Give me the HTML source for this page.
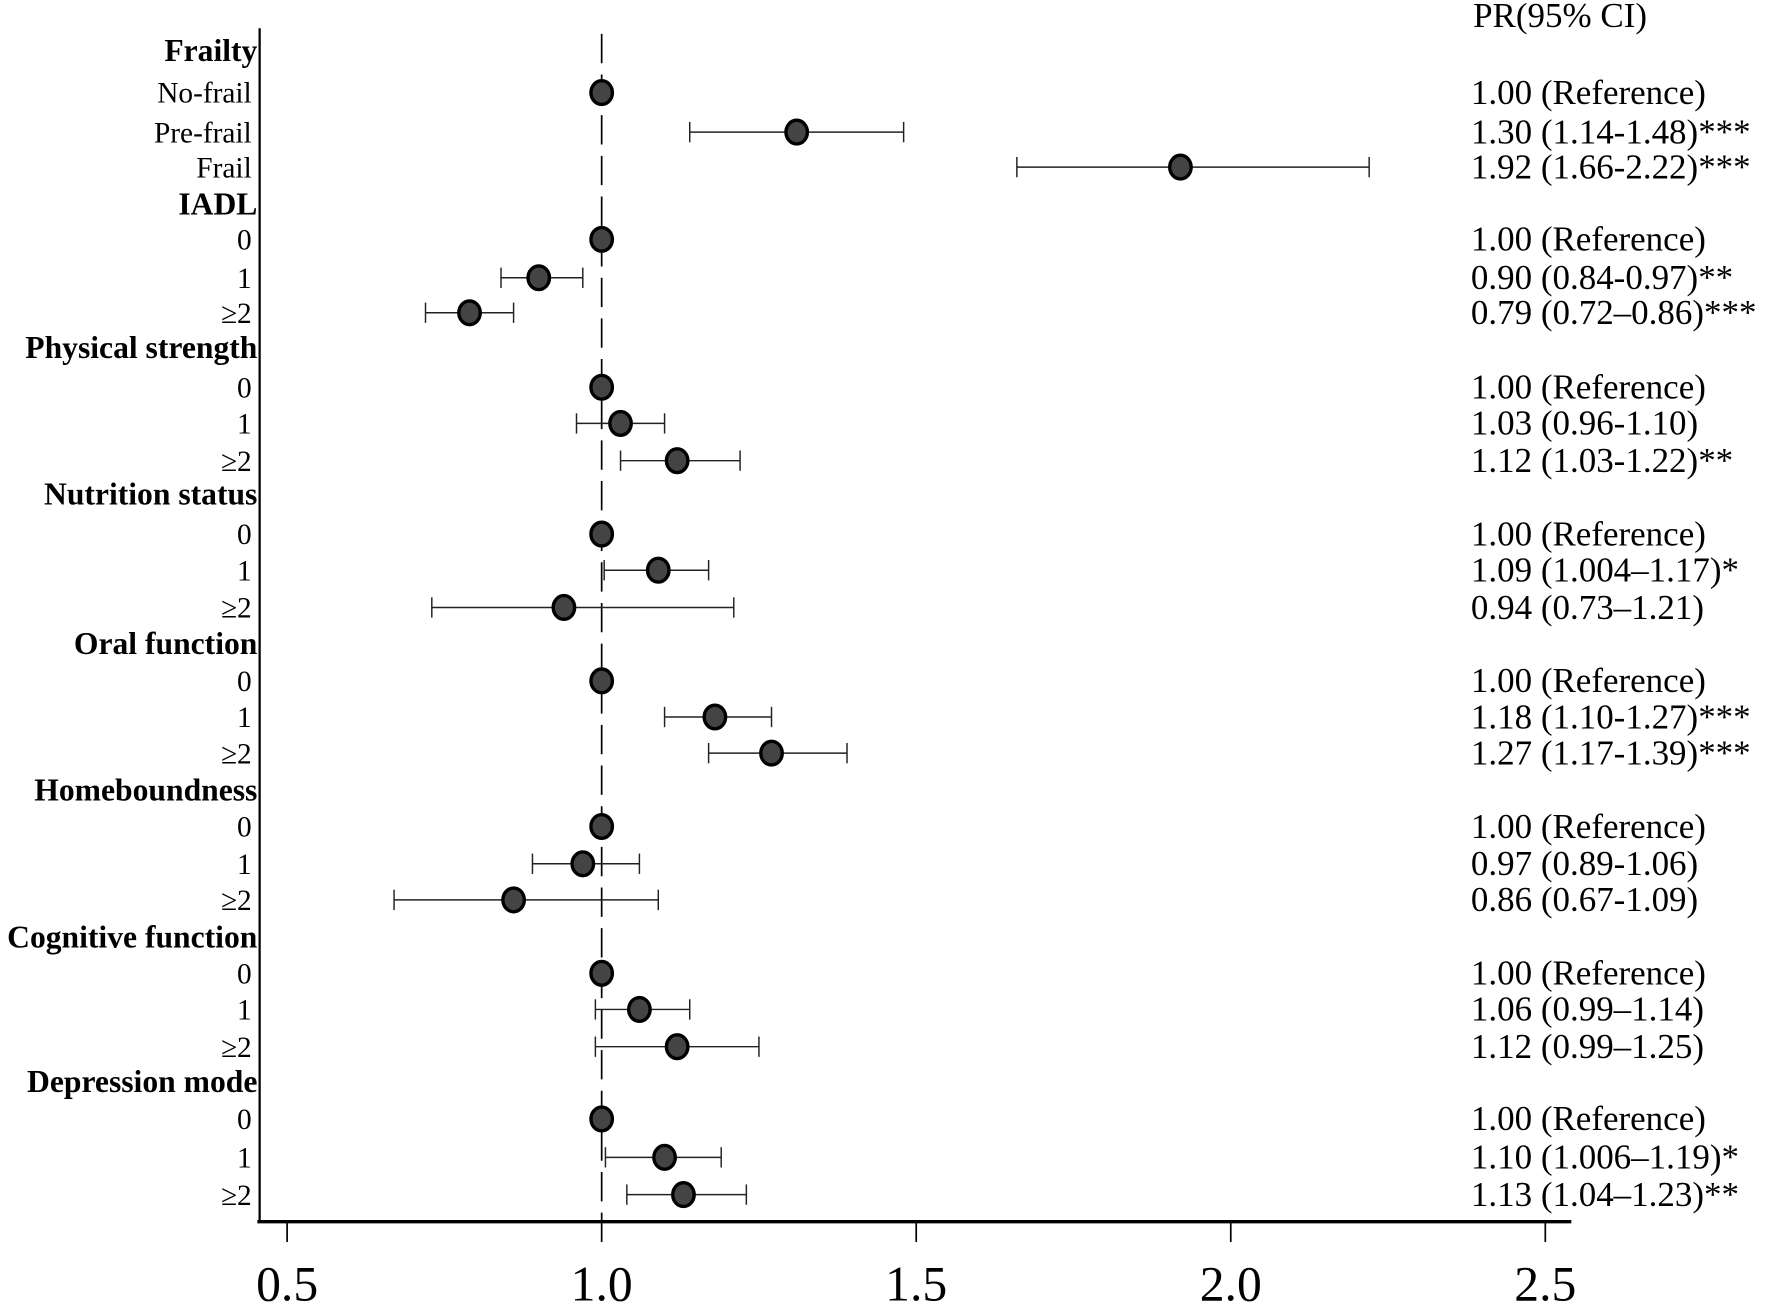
<!DOCTYPE html>
<html><head><meta charset="utf-8"><style>
html,body{margin:0;padding:0;background:#fff;}
svg{display:block;font-family:"Liberation Serif",serif;}
</style></head><body>
<svg id="chart" width="1770" height="1303" viewBox="0 0 1568 1154" preserveAspectRatio="none" xmlns="http://www.w3.org/2000/svg">
<g id="g"></g>
</svg>
<script>
const groups = ["Frailty","IADL","Physical strength","Nutrition status","Oral function","Homeboundness","Cognitive function","Depression mode"];
const groupY = [45,181,308,438,570,700,830,958];
const rowLabels = ["No-frail","Pre-frail","Frail","0","1","≥2","0","1","≥2","0","1","≥2","0","1","≥2","0","1","≥2","0","1","≥2","0","1","≥2"];
const rowY = [82,117,148,212,246,277,343,375,408,473,505,538,603,635,667,732,765,797,862,894,927,991,1025,1058];
const estimates = [1.00,1.31,1.92,1.00,0.90,0.79,1.00,1.03,1.12,1.00,1.09,0.94,1.00,1.18,1.27,1.00,0.97,0.86,1.00,1.06,1.12,1.00,1.10,1.13];
const lower = [null,1.14,1.66,null,0.84,0.72,null,0.96,1.03,null,1.004,0.73,null,1.10,1.17,null,0.89,0.67,null,0.99,0.99,null,1.006,1.04];
const upper = [null,1.48,2.22,null,0.97,0.86,null,1.10,1.22,null,1.17,1.21,null,1.27,1.39,null,1.06,1.09,null,1.14,1.25,null,1.19,1.23];
const prText = ["1.00 (Reference)","1.30 (1.14-1.48)***","1.92 (1.66-2.22)***","1.00 (Reference)","0.90 (0.84-0.97)**","0.79 (0.72–0.86)***","1.00 (Reference)","1.03 (0.96-1.10)","1.12 (1.03-1.22)**","1.00 (Reference)","1.09 (1.004–1.17)*","0.94 (0.73–1.21)","1.00 (Reference)","1.18 (1.10-1.27)***","1.27 (1.17-1.39)***","1.00 (Reference)","0.97 (0.89-1.06)","0.86 (0.67-1.09)","1.00 (Reference)","1.06 (0.99–1.14)","1.12 (0.99–1.25)","1.00 (Reference)","1.10 (1.006–1.19)*","1.13 (1.04–1.23)**"];
const ticks = [0.5,1.0,1.5,2.0,2.5];
const tickLabels = ["0.5","1.0","1.5","2.0","2.5"];

const x = v => 533 + (v - 1.0) * 557.3;
const g = document.getElementById('g');
const NS = "http://www.w3.org/2000/svg";
function mk(tag, attrs, txt){const e=document.createElementNS(NS,tag);for(const k in attrs)e.setAttribute(k,attrs[k]);if(txt!=null)e.textContent=txt;g.appendChild(e);return e;}

let e;
e = mk('line',{x1:230,y1:25,x2:230,y2:1082,stroke:'#000','stroke-width':2});


e = mk('line',{x1:228,y1:1082,x2:1392,y2:1082,stroke:'#000','stroke-width':3});


e = mk('line',{x1:x(1),y1:30,x2:x(1),y2:1082,stroke:'#000','stroke-width':1.5,'stroke-dasharray':'26,10'});


ticks.forEach((t,i)=>{
  e = mk('line',{x1:x(t),y1:1082,x2:x(t),y2:1100,stroke:'#000','stroke-width':1.5});
  
  
  e = mk('text',{x:x(t),y:1152,'text-anchor':'middle','font-size':44},tickLabels[i]);
  
  
});
groups.forEach((gr,i)=>{
  e = mk('text',{x:228,y:groupY[i]+9,'text-anchor':'end','font-size':28,'font-weight':'bold'},gr);
  
  
});
e = mk('text',{x:1305,y:24,'font-size':31},'PR(95% CI)');


rowLabels.forEach((lb,i)=>{
  const y = rowY[i];
  e = mk('text',{x:223,y:y+9,'text-anchor':'end','font-size':26},lb);
  
  
  if(lower[i]!=null){
    e = mk('line',{x1:x(lower[i]),y1:y,x2:x(upper[i]),y2:y,stroke:'#222','stroke-width':1.3});
    
    
    [lower[i],upper[i]].forEach(v=>{
      e = mk('line',{x1:x(v),y1:y-9,x2:x(v),y2:y+9,stroke:'#222','stroke-width':1.3});
      
      
    });
  }
  e = mk('ellipse',{cx:x(estimates[i]),cy:y,rx:9.5,ry:10.5,fill:'#444',stroke:'#000','stroke-width':3});
  
  
  e = mk('text',{x:1303,y:y+10,'font-size':31},prText[i]);
  
  
});
</script>
</body></html>
